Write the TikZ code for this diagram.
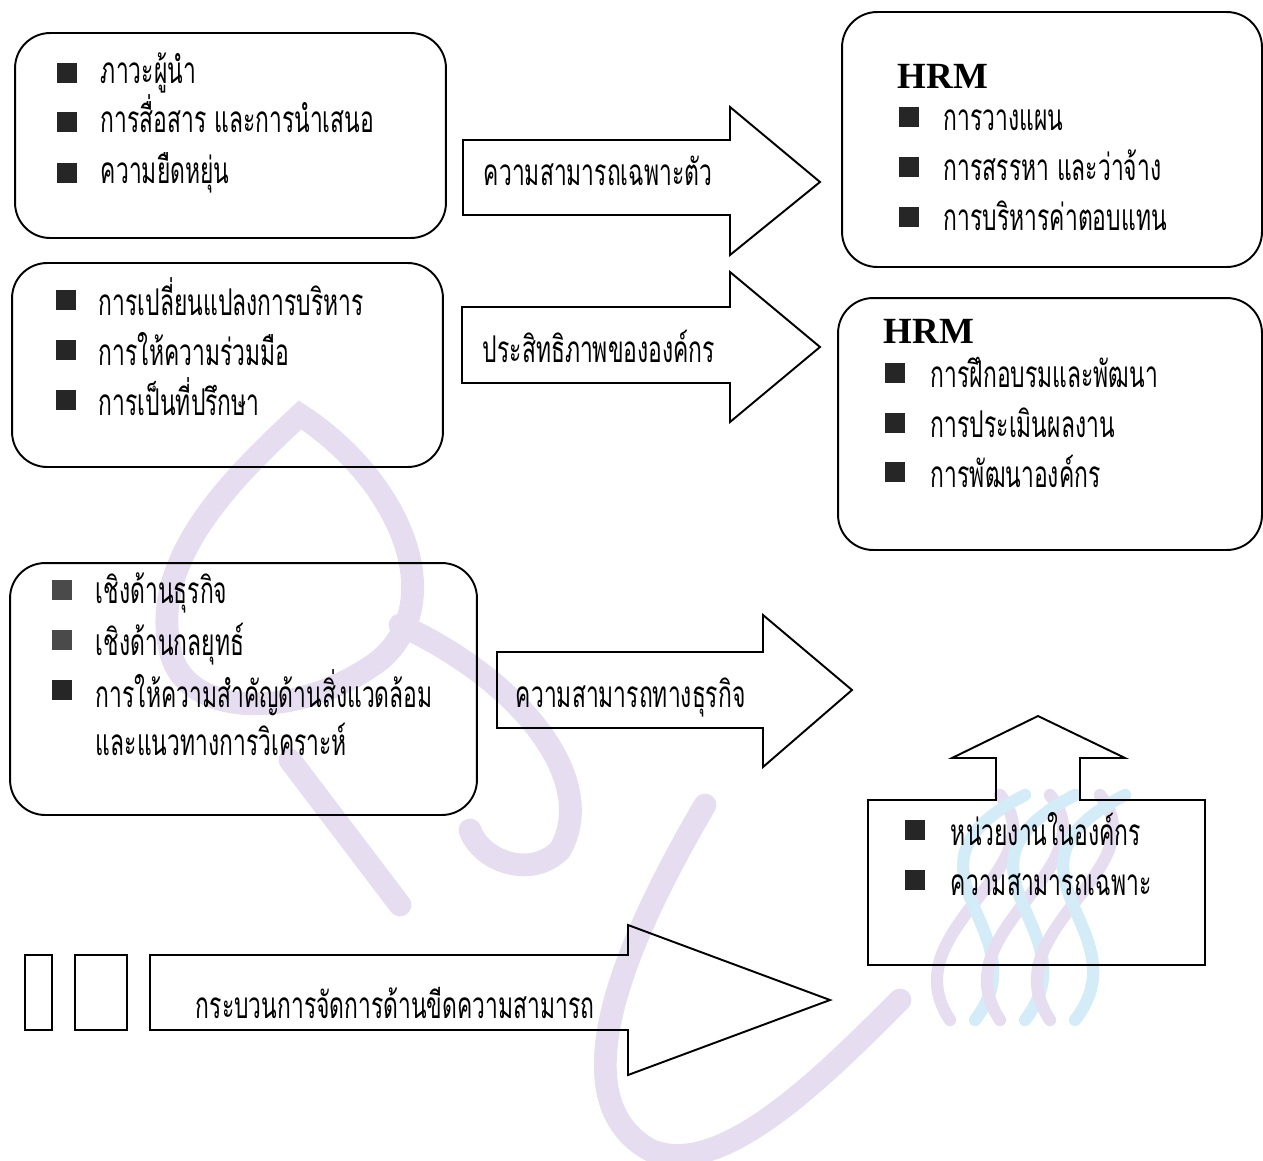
\documentclass[tikz,border=0pt]{standalone}
\usepackage{fontspec}
\setmainfont{Liberation Serif}
\newfontfamily\thai[Script=Thai,FakeStretch=0.62]{Loma}
\definecolor{bulc}{HTML}{262626}
\definecolor{bulg}{HTML}{4A4A4A}
\definecolor{wmpurple}{HTML}{E6DEF0}
\definecolor{wmcyan}{HTML}{D3ECF7}
\begin{document}
\begin{tikzpicture}[x=0.02cm,y=-0.02cm, line width=1.1pt, line join=miter,
  rbox/.style={draw, rounded corners=20pt, inner sep=0pt},
  sbox/.style={draw, inner sep=0pt},
  bul/.style={fill=bulc, draw=none, inner sep=0pt, minimum size=0.4cm},
  bulgray/.style={bul, fill=bulg},
  item/.style={anchor=base west, inner sep=0pt, font=\thai\fontsize{21}{24}\selectfont},
  hrm/.style={anchor=base west, inner sep=0pt, font=\bfseries\fontsize{21}{24}\selectfont},
  wm/.style={draw=wmpurple, line width=13pt, line cap=round},
  wmc/.style={draw=wmcyan, line width=7pt, line cap=round},
  wmp/.style={draw=wmpurple, line width=7pt, line cap=round}]
\useasboundingbox (0,0) rectangle (1263,1160);
% watermark (faint background logo)
\draw[wm] (300,415) .. controls (230,480) and (150,560) .. (170,650) .. controls (185,720) and (300,720) .. (380,660) .. controls (450,600) and (400,480) .. cycle;
\draw[wm] (290,760) -- (400,905);
\draw[wm] (400,625) .. controls (520,680) and (600,780) .. (560,850) .. controls (530,880) and (480,860) .. (470,830);
\draw[wm] (705,805) .. controls (620,950) and (560,1100) .. (650,1150) .. controls (720,1180) and (820,1080) .. (900,1000);
\foreach \dx in {0,50,100}{
  \draw[wmp] (950+\dx,1020) .. controls (890+\dx,930) and (1060+\dx,870) .. (1000+\dx,795);
  \draw[wmc] (975+\dx,1020) .. controls (1045+\dx,930) and (880+\dx,870) .. (1025+\dx,795);
}
% boxes
\node[rbox, minimum width=8.62cm, minimum height=4.10cm] (box1) at (230.5,135.5) {};
\node[rbox, minimum width=8.40cm, minimum height=5.10cm] (hrm1) at (1052,139.5) {};
\node[rbox, minimum width=8.62cm, minimum height=4.08cm] (box2) at (227.5,365) {};
\node[rbox, minimum width=8.48cm, minimum height=5.04cm] (hrm2) at (1050,424) {};
\node[rbox, minimum width=9.34cm, minimum height=5.04cm] (box3) at (243.5,689) {};
\node[sbox, minimum width=0.54cm, minimum height=1.50cm] (r1) at (38.5,992.5) {};
\node[sbox, minimum width=1.04cm, minimum height=1.50cm] (r2) at (101,992.5) {};
% block arrows
\draw (463,140)--(730,140)--(730,107)--(820,182)--(730,255)--(730,215)--(463,215)--cycle;
\draw (462,307)--(730,307)--(730,272)--(820,347)--(730,422)--(730,383)--(462,383)--cycle;
\draw (497,652)--(763,652)--(763,615)--(852,690)--(763,767)--(763,728)--(497,728)--cycle;
\draw (150,955)--(628,955)--(628,925)--(830,1000)--(628,1075)--(628,1030)--(150,1030)--cycle;
\draw (868,800)--(996,800)--(996,758)--(952,758)--(1038,716)--(1125,758)--(1080,758)--(1080,800)--(1205,800)--(1205,965)--(868,965)--cycle;
% box1
\node[bul] (b11) at (67,73) {};
\node[bul] (b12) at (67,122) {};
\node[bul] (b13) at (67,173) {};
\node[item] (t11) at (100,83) {ภาวะผู้นำ};
\node[item] (t12) at (100,132) {การสื่อสาร และการนำเสนอ};
\node[item] (t13) at (100,183) {ความยืดหยุ่น};
% arrow texts
\node[item] (a1) at (483,185) {ความสามารถเฉพาะตัว};
\node[item] (a2) at (482,362) {ประสิทธิภาพขององค์กร};
\node[item] (a3) at (515,707) {ความสามารถทางธุรกิจ};
\node[item] (a4) at (195,1018) {กระบวนการจัดการด้านขีดความสามารถ};
% hrm1
\node[hrm] (h1) at (897,88) {HRM};
\node[bul] (c11) at (909,117) {};
\node[bul] (c12) at (909,167) {};
\node[bul] (c13) at (909,217) {};
\node[item] (u11) at (943,130) {การวางแผน};
\node[item] (u12) at (943,180) {การสรรหา และว่าจ้าง};
\node[item] (u13) at (943,230) {การบริหารค่าตอบแทน};
% box2
\node[bul] (b21) at (66,300) {};
\node[bul] (b22) at (66,350) {};
\node[bul] (b23) at (66,400) {};
\node[item] (t21) at (98,315) {การเปลี่ยนแปลงการบริหาร};
\node[item] (t22) at (98,365) {การให้ความร่วมมือ};
\node[item] (t23) at (98,415) {การเป็นที่ปรึกษา};
% hrm2
\node[hrm] (h2) at (883,343) {HRM};
\node[bul] (c21) at (895,373) {};
\node[bul] (c22) at (895,423) {};
\node[bul] (c23) at (895,472) {};
\node[item] (u21) at (930,387) {การฝึกอบรมและพัฒนา};
\node[item] (u22) at (930,437) {การประเมินผลงาน};
\node[item] (u23) at (930,487) {การพัฒนาองค์กร};
% box3
\node[bulgray] (b31) at (62,590) {};
\node[bulgray] (b32) at (62,640) {};
\node[bul] (b33) at (62,690) {};
\node[item] (t31) at (95,603) {เชิงด้านธุรกิจ};
\node[item] (t32) at (95,655) {เชิงด้านกลยุทธ์};
\node[item] (t33) at (95,707) {การให้ความสำคัญด้านสิ่งแวดล้อม};
\node[item] (t34) at (95,755) {และแนวทางการวิเคราะห์};
% house box
\node[bul] (d1) at (915,830) {};
\node[bul] (d2) at (915,880) {};
\node[item] (v1) at (950,845) {หน่วยงานในองค์กร};
\node[item] (v2) at (950,895) {ความสามารถเฉพาะ};
\end{tikzpicture}
\end{document}
